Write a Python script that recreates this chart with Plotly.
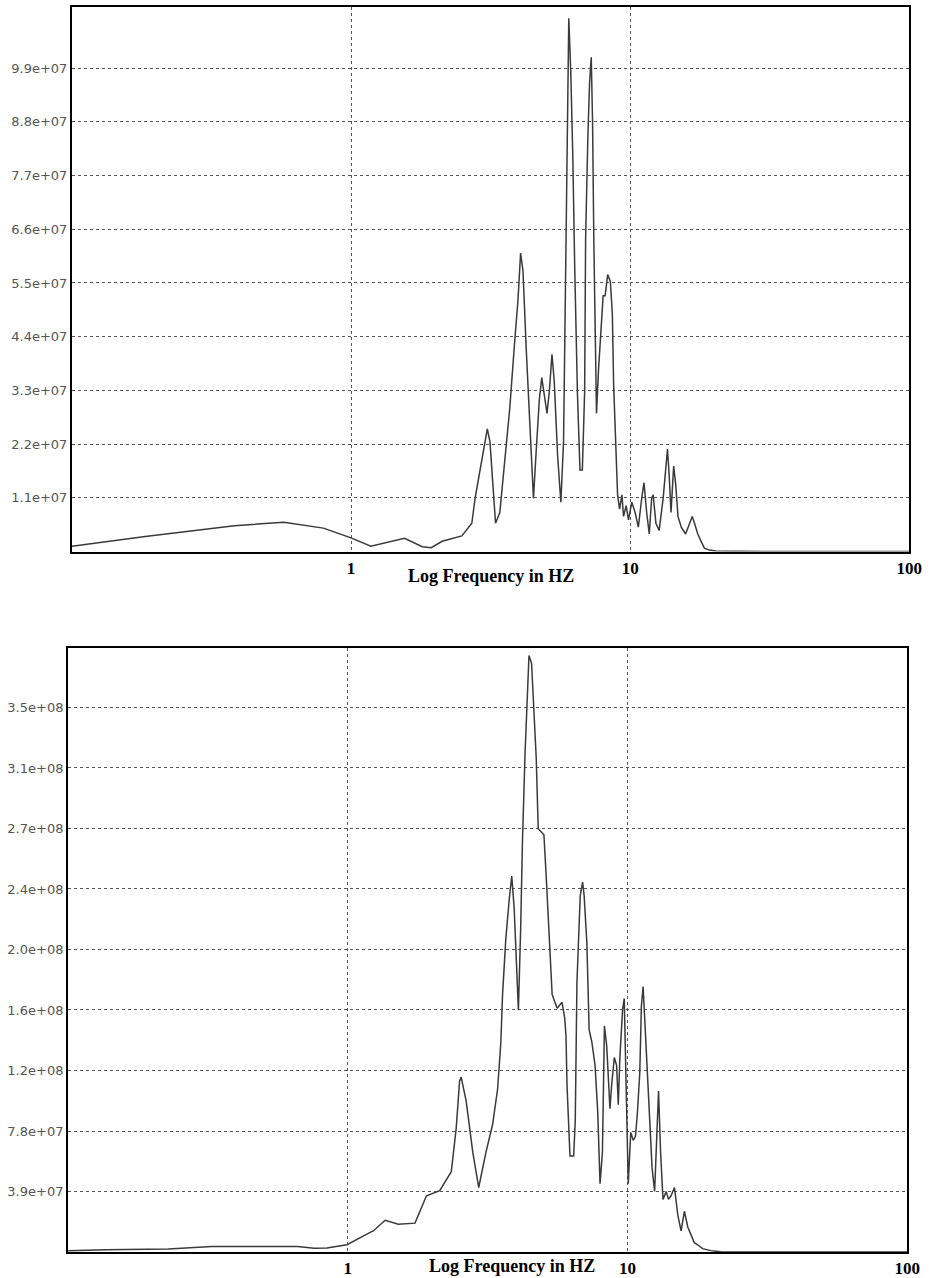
import plotly.graph_objects as go

# ---------------- Data ----------------
# Top spectrum: frequency (Hz) and amplitude
top_freq = [0.1, 0.183, 0.382, 0.574, 0.796, 1.0, 1.177, 1.554, 1.80, 1.938, 2.12, 2.495,
            2.708, 2.782, 2.899, 3.019, 3.078, 3.145, 3.206, 3.294, 3.412, 3.553, 3.701, 3.856,
            3.965, 4.050, 4.130, 4.243, 4.359, 4.503, 4.603, 4.729, 4.823, 4.926, 5.036, 5.132,
            5.247, 5.346, 5.497, 5.647, 5.772, 5.834, 5.896, 5.963, 6.027, 6.126, 6.228, 6.330,
            6.471, 6.610, 6.741, 6.870, 6.925, 7.057, 7.156, 7.255, 7.333, 7.412, 7.496, 7.576,
            7.701, 7.873, 8.003, 8.135, 8.309, 8.494, 8.634, 8.726, 8.870, 9.016, 9.164, 9.346,
            9.468, 9.678, 9.862, 10.14, 10.42, 10.70, 11.00, 11.21, 11.46, 11.71, 11.94, 12.09,
            12.37, 12.70, 13.13, 13.42, 13.61, 13.79, 14.01, 14.32, 14.56, 14.84, 15.25, 15.80,
            16.33, 16.69, 17.01, 17.47, 17.96, 18.45, 19.22, 20.30, 30.0, 50.0, 100.0]
top_amp_m = [1.1, 3.1, 5.3, 6.0, 4.8, 2.8, 1.1, 2.7, 1.0, 0.8, 2.1, 3.2,
             5.8, 10.9, 16.7, 22.5, 25.1, 22.5, 15.2, 5.8, 8.0, 18.2, 29.1, 42.9,
             51.6, 61.1, 57.5, 41.4, 28.3, 10.9, 20.3, 31.2, 35.6, 32.0, 28.3, 32.7,
             40.4, 34.9, 19.6, 10.1, 22.5, 43.6, 65.5, 96.1, 109.2, 98.3, 81.5, 58.2,
             32.7, 16.7, 16.7, 32.7, 64.0, 85.2, 96.1, 101.2, 88.1, 63.3, 40.0, 28.3,
             37.1, 47.3, 52.4, 52.4, 56.7, 55.3, 48.7, 34.2, 20.3, 11.6, 8.7, 11.6,
             7.2, 9.4, 6.5, 10.1, 8.0, 5.0, 10.9, 14.1, 8.0, 3.6, 10.9, 11.6,
             5.8, 4.3, 10.9, 18.2, 21.0, 15.9, 8.0, 17.5, 13.8, 7.2, 5.0, 3.6,
             5.8, 7.2, 5.8, 3.6, 2.1, 0.7, 0.3, 0.1, 0.0, 0.0, 0.0]

# Bottom spectrum: frequency (Hz) and amplitude
bot_freq = [0.1, 0.136, 0.228, 0.327, 0.660, 0.758, 0.842, 0.929, 0.994, 1.139, 1.236, 1.360,
            1.517, 1.739, 1.911, 2.132, 2.281, 2.344, 2.441, 2.510, 2.543, 2.649, 2.798, 2.938,
            3.119, 3.294, 3.432, 3.526, 3.575, 3.672, 3.776, 3.856, 3.933, 3.985, 4.041, 4.073,
            4.151, 4.209, 4.301, 4.382, 4.444, 4.539, 4.629, 4.717, 4.795, 5.025, 5.120, 5.234,
            5.377, 5.601, 5.834, 5.963, 6.027, 6.077, 6.162, 6.228, 6.420, 6.504, 6.595, 6.688,
            6.776, 6.910, 6.998, 7.156, 7.292, 7.454, 7.656, 7.827, 7.976, 8.135, 8.269, 8.425,
            8.543, 8.654, 8.776, 8.970, 9.142, 9.268, 9.391, 9.600, 9.734, 9.862, 10.06, 10.27,
            10.48, 10.68, 10.85, 11.06, 11.21, 11.37, 11.52, 11.77, 12.00, 12.24, 12.50, 12.67,
            12.91, 13.13, 13.39, 13.75, 14.01, 14.32, 14.72, 15.13, 15.54, 15.97, 16.42, 16.87,
            17.33, 17.81, 18.55, 19.86, 21.54, 30.0, 100.0]
bot_amp_m = [0.8, 1.5, 2.0, 3.5, 3.5, 2.4, 2.6, 4.0, 4.7, 10.5, 13.8, 20.6,
             18.0, 18.7, 36.4, 39.7, 48.3, 52.0, 80.1, 110.7, 113.3, 97.9, 64.7, 41.8,
             64.7, 82.6, 105.6, 136.2, 166.9, 202.7, 228.2, 243.5, 223.1, 197.6, 172.0, 156.7,
             210.3, 264.0, 322.7, 353.4, 386.5, 381.4, 350.8, 320.1, 274.2, 270.3, 243.5, 205.2,
             166.9, 157.9, 161.8, 151.6, 140.0, 108.2, 77.5, 62.2, 62.2, 85.2, 174.6, 202.7,
             230.8, 239.7, 230.8, 200.1, 143.9, 136.2, 120.9, 90.3, 44.3, 64.7, 146.5, 133.7,
             115.8, 92.8, 108.2, 126.0, 120.9, 95.4, 126.0, 156.7, 164.3, 120.9, 44.3, 77.5,
             72.4, 75.0, 90.3, 115.8, 159.2, 172.0, 151.6, 110.7, 82.6, 54.5, 39.2, 69.9,
             104.3, 64.7, 34.1, 39.2, 34.1, 36.6, 41.8, 23.9, 13.7, 26.4, 16.2, 11.1,
             6.0, 4.7, 2.2, 0.9, 0.1, 0.0, 0.0]

# Axis ticks
x_tick_vals = [1, 10, 100]
x_tick_text = ["1", "10", "100"]
top_y_tick_vals = [1.1e7, 2.2e7, 3.3e7, 4.4e7, 5.5e7, 6.6e7, 7.7e7, 8.8e7, 9.9e7]
top_y_tick_text = ["1.1e+07", "2.2e+07", "3.3e+07", "4.4e+07", "5.5e+07",
                   "6.6e+07", "7.7e+07", "8.8e+07", "9.9e+07"]
bot_y_tick_vals = [3.92e7, 7.84e7, 1.176e8, 1.568e8, 1.96e8, 2.352e8, 2.744e8, 3.136e8, 3.528e8]
bot_y_tick_text = ["3.9e+07", "7.8e+07", "1.2e+08", "1.6e+08", "2.0e+08",
                   "2.4e+08", "2.7e+08", "3.1e+08", "3.5e+08"]
x_title = "Log Frequency in HZ"

# ---------------- Figure ----------------
W, H = 938, 1278
line_style = dict(color="#3a3a3a", width=1.5)

fig = go.Figure()
fig.add_trace(go.Scatter(x=top_freq, y=[v * 1e6 for v in top_amp_m], mode="lines",
                         line=line_style, xaxis="x", yaxis="y", showlegend=False))
fig.add_trace(go.Scatter(x=bot_freq, y=[v * 1e6 for v in bot_amp_m], mode="lines",
                         line=line_style, xaxis="x2", yaxis="y2", showlegend=False))

xcommon = dict(type="log", range=[-1, 2], tickvals=x_tick_vals, ticktext=x_tick_text,
               showgrid=True, gridcolor="#555555", griddash="dot", gridwidth=1,
               showline=True, linecolor="black", linewidth=2, mirror=True,
               ticks="", zeroline=False,
               tickfont=dict(family="Liberation Serif", size=17, color="black", weight="bold"))
ycommon = dict(showgrid=True, gridcolor="#555555", griddash="dot", gridwidth=1,
               showline=True, linecolor="black", linewidth=2, mirror=True,
               ticks="", zeroline=False, ticklabelstandoff=0,
               tickfont=dict(family="DejaVu Sans", size=13, color="#555555"))

fig.update_layout(
    width=W, height=H,
    margin=dict(l=0, r=0, t=0, b=0),
    paper_bgcolor="white", plot_bgcolor="white",
    xaxis=dict(xcommon, domain=[73 / W, 922 / W], anchor="y"),
    yaxis=dict(ycommon, domain=[(H - 552) / H, (H - 7) / H], anchor="x",
               range=[0, 1.115e8], tickvals=top_y_tick_vals, ticktext=top_y_tick_text),
    xaxis2=dict(xcommon, domain=[69 / W, 920 / W], anchor="y2"),
    yaxis2=dict(ycommon, domain=[(H - 1253) / H, (H - 649) / H], anchor="x2",
                range=[0, 3.91e8], tickvals=bot_y_tick_vals, ticktext=bot_y_tick_text),
    annotations=[
        dict(text="<b>" + x_title + "</b>", xref="paper", yref="paper",
             x=498 / W, y=1 - 576 / H, xanchor="center", yanchor="middle", showarrow=False,
             font=dict(family="Liberation Serif", size=18, color="black")),
        dict(text="<b>" + x_title + "</b>", xref="paper", yref="paper",
             x=519 / W, y=1 - 1267 / H, xanchor="center", yanchor="middle", showarrow=False,
             font=dict(family="Liberation Serif", size=18, color="black")),
    ],
)

fig.write_html("out.html")
